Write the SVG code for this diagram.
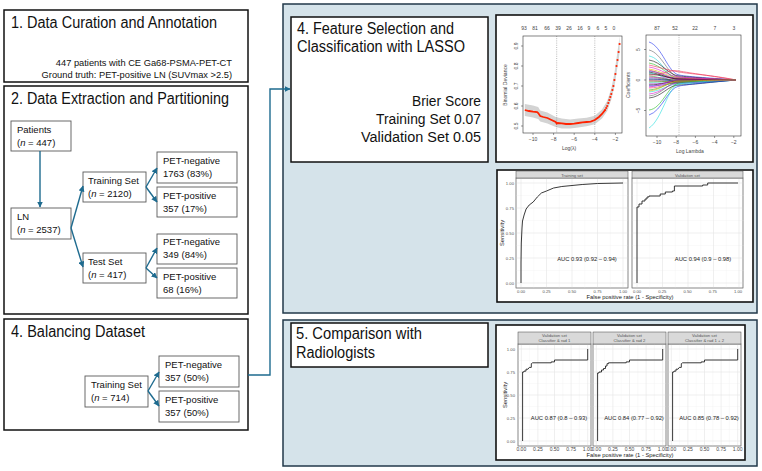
<svg xmlns="http://www.w3.org/2000/svg" xmlns:xlink="http://www.w3.org/1999/xlink" width="762" height="471" viewBox="0 0 762 471">
<style>
.t{font-family:'Liberation Sans',Arial,sans-serif;fill:#111}
.big{font-size:16px}
.mid{font-size:14px}
.sm{font-size:9.5px}
.box{fill:#fff;stroke:#111;stroke-width:1.5}
.nb{fill:#fff;stroke:#5a5a5a;stroke-width:0.9}
.conn{fill:none;stroke:#1e6b8f;stroke-width:1.4}
.panel{fill:#d5e3ea;stroke:#22394a;stroke-width:1.5}
.pbox{fill:#fff;stroke:#111;stroke-width:1.6}
.tiny{font-family:'Liberation Sans',Arial,sans-serif;font-size:5px;fill:#444}
.tiny2{font-family:'Liberation Sans',Arial,sans-serif;font-size:4.2px;fill:#555}
.lab{font-family:'Liberation Sans',Arial,sans-serif;font-size:5.8px;fill:#222}
.frame{fill:none;stroke:#333;stroke-width:0.6}
.gmaj{stroke:#e4e4e4;stroke-width:0.6;fill:none}
.gmin{stroke:#f2f2f2;stroke-width:0.4;fill:none}
.strip{fill:#d9d9d9;stroke:#444;stroke-width:0.5}
.ggp{fill:#fff;stroke:#777;stroke-width:0.5}
.roc{fill:none;stroke:#222;stroke-width:0.9}
.co{fill:none;stroke-width:0.6}
</style>
<defs>
<marker id="ah" markerUnits="userSpaceOnUse" markerWidth="6" markerHeight="6" refX="5.5" refY="3" orient="auto">
<path d="M0,0 L6,3 L0,6 z" fill="#1e6b8f"/>
</marker>
<g id="grid4">
<path class="gmin" d="M533.75 178V288M559.25 178V288M584.75 178V288M610.25 178V288M516 270.5H628M516 245.5H628M516 220.5H628M516 195.5H628"/>
<path class="gmaj" d="M521 178V288M546.5 178V288M572 178V288M597.5 178V288M623 178V288M516 283H628M516 258H628M516 233H628M516 208H628M516 183H628"/>
</g>
<g id="grid5">
<rect class="ggp" x="0" y="344" width="73" height="102"/>
<path class="gmin" d="M11.6 344V446M28.2 344V446M44.8 344V446M61.4 344V446M0 429.5H73M0 406.5H73M0 383.5H73M0 360.5H73"/>
<path class="gmaj" d="M3.3 344V446M19.9 344V446M36.5 344V446M53.1 344V446M69.7 344V446M0 441H73M0 418H73M0 395H73M0 372H73M0 349H73"/>
<rect x="0" y="344" width="73" height="102" fill="none" stroke="#777" stroke-width="0.5"/>
<rect class="strip" x="0" y="332" width="73" height="12"/>
<g class="tiny" text-anchor="middle" font-size="4.3"><text x="3.3" y="450.5">0.00</text><text x="19.9" y="450.5">0.25</text><text x="36.5" y="450.5">0.50</text><text x="53.1" y="450.5">0.75</text><text x="69.7" y="450.5">1.00</text></g>
</g>
</defs>

<!-- background panels -->
<g id="panel-4">
<rect class="panel" x="283" y="4" width="474" height="309"/>
</g>
<g id="panel-5">
<rect class="panel" x="283" y="320" width="474" height="146"/>
</g>

<!-- Box 1 -->
<g id="box1">
<rect class="box" x="4" y="10" width="244" height="72"/>
<text class="t big" x="11" y="28" textLength="206" lengthAdjust="spacingAndGlyphs">1. Data Curation and Annotation</text>
<text class="t" font-size="9.3" x="232" y="66" text-anchor="end">447 patients with CE Ga68-PSMA-PET-CT</text>
<text class="t" font-size="9.3" x="232" y="78" text-anchor="end">Ground truth: PET-positive LN (SUVmax &gt;2.5)</text>
</g>

<!-- Box 2 -->
<g id="box2">
<rect class="box" x="4" y="86" width="244" height="228"/>
<text class="t big" x="11" y="104" textLength="218" lengthAdjust="spacingAndGlyphs">2. Data Extraction and Partitioning</text>
</g>
<g id="patients">
<rect class="nb" x="11" y="121" width="60" height="30"/>
<text class="t sm" x="17" y="133">Patients</text>
<text class="t sm" x="17" y="146">(<tspan font-style="italic">n</tspan> = 447)</text>
</g>
<g id="ln">
<rect class="nb" x="11" y="208" width="60" height="31"/>
<text class="t sm" x="17" y="220">LN</text>
<text class="t sm" x="17" y="233">(<tspan font-style="italic">n</tspan> = 2537)</text>
</g>
<g id="train">
<rect class="nb" x="83" y="172" width="63" height="30"/>
<text class="t sm" x="88" y="184">Training Set</text>
<text class="t sm" x="88" y="197">(<tspan font-style="italic">n</tspan> = 2120)</text>
</g>
<g id="test">
<rect class="nb" x="83" y="253" width="63" height="30"/>
<text class="t sm" x="88" y="265">Test Set</text>
<text class="t sm" x="88" y="278">(<tspan font-style="italic">n</tspan> = 417)</text>
</g>
<g id="train-neg">
<rect class="nb" x="157" y="152" width="80" height="31"/>
<text class="t sm" x="163" y="164">PET-negative</text>
<text class="t sm" x="163" y="177">1763 (83%)</text>
</g>
<g id="train-pos">
<rect class="nb" x="157" y="187" width="80" height="30"/>
<text class="t sm" x="163" y="199">PET-positive</text>
<text class="t sm" x="163" y="212">357 (17%)</text>
</g>
<g id="test-neg">
<rect class="nb" x="157" y="234" width="80" height="30"/>
<text class="t sm" x="163" y="245">PET-negative</text>
<text class="t sm" x="163" y="258">349 (84%)</text>
</g>
<g id="test-pos">
<rect class="nb" x="157" y="268" width="80" height="30"/>
<text class="t sm" x="163" y="280">PET-positive</text>
<text class="t sm" x="163" y="293">68 (16%)</text>
</g>

<!-- Box 4 balancing -->
<g id="box4-balancing">
<rect class="box" x="4" y="319" width="244" height="111"/>
<text class="t big" x="11" y="337" textLength="134" lengthAdjust="spacingAndGlyphs">4. Balancing Dataset</text>
</g>
<g id="bal-train">
<rect class="nb" x="85" y="376" width="63" height="31"/>
<text class="t sm" x="91" y="388">Training Set</text>
<text class="t sm" x="91" y="401">(<tspan font-style="italic">n</tspan> = 714)</text>
</g>
<g id="bal-neg">
<rect class="nb" x="159" y="356" width="80" height="31"/>
<text class="t sm" x="165" y="368">PET-negative</text>
<text class="t sm" x="165" y="381">357 (50%)</text>
</g>
<g id="bal-pos">
<rect class="nb" x="159" y="391" width="80" height="31"/>
<text class="t sm" x="165" y="403">PET-positive</text>
<text class="t sm" x="165" y="416">357 (50%)</text>
</g>

<!-- Section 4 title box -->
<g id="lasso-title">
<rect class="box" x="291" y="17" width="197" height="145"/>
<text class="t big" x="297" y="34" textLength="157" lengthAdjust="spacingAndGlyphs">4. Feature Selection and</text>
<text class="t big" x="297" y="52" textLength="168" lengthAdjust="spacingAndGlyphs">Classification with LASSO</text>
<text class="t mid" x="481" y="106" text-anchor="end" textLength="69" lengthAdjust="spacingAndGlyphs">Brier Score</text>
<text class="t mid" x="481" y="124" text-anchor="end" textLength="105" lengthAdjust="spacingAndGlyphs">Training Set 0.07</text>
<text class="t mid" x="481" y="142" text-anchor="end" textLength="120" lengthAdjust="spacingAndGlyphs">Validation Set 0.05</text>
</g>

<!-- LASSO plots -->
<g id="lasso-plots">
<rect class="pbox" x="496" y="15" width="257" height="147"/>
<!-- CV deviance plot -->
<polygon fill="#d3d3d3" points="524.8,104 533,105.6 538.2,107 540.2,110.5 547.4,112.5 555.7,117 561.8,118.5 570.1,119.5 578.3,118.6 586.6,117.8 594.8,115.8 602,109.5 607.2,101 611.3,88.5 614.4,73.5 616.5,58.5 618.6,44 619.6,36 619.6,52 618.6,60 616.5,73 614.4,86.5 611.3,99.5 607.2,111 602,118.5 594.8,124.2 586.6,126.2 578.3,127.4 570.1,128.5 561.8,128.4 555.7,127 547.4,123.5 540.2,121.5 538.2,119 533,117.6 524.8,116"/>
<path d="M556.7 36V133M594.8 36V133" stroke="#777" stroke-width="0.5" stroke-dasharray="1,1.2" fill="none"/>
<polyline fill="none" stroke="#ff2200" stroke-width="1.8" points="524.8,110 528.9,111 533,111.6 537.1,112 538.2,113 540.2,116 543.3,117 547.4,118 551.5,120 555.7,122 556.7,123.6 557.7,123 561.8,123.4 566,124 570.1,124 574.2,123.6 578.3,123 582.4,122.4 586.6,122 590.7,121.6 594.8,120 598.9,117 602,114 605.1,110"/>
<g fill="#ff2200">
<circle cx="605.1" cy="110" r="1.1"/><circle cx="606.2" cy="108" r="1.1"/><circle cx="607.2" cy="106" r="1.1"/><circle cx="608.3" cy="103" r="1.1"/><circle cx="609.3" cy="100" r="1.1"/><circle cx="610.3" cy="97" r="1.1"/><circle cx="611.3" cy="94" r="1.1"/><circle cx="612.4" cy="90" r="1.1"/><circle cx="613.4" cy="86" r="1.1"/><circle cx="614.4" cy="80" r="1.1"/><circle cx="615.4" cy="74" r="1.1"/><circle cx="616.5" cy="66" r="1.1"/><circle cx="617.5" cy="60" r="1.1"/><circle cx="618.6" cy="52" r="1.1"/><circle cx="619.6" cy="44" r="1.1"/>
</g>
<rect class="frame" x="523" y="36" width="99" height="97"/>
<path d="M533 133v2M553.6 133v2M574.2 133v2M594.8 133v2M615.4 133v2M523 126h-2M523 106h-2M523 86h-2M523 66h-2M523 46h-2" stroke="#333" stroke-width="0.5"/>
<g class="tiny" text-anchor="middle">
<text x="524" y="30">93</text><text x="535" y="30">81</text><text x="547" y="30">66</text><text x="558" y="30">39</text><text x="569" y="30">26</text><text x="580" y="30">16</text><text x="589" y="30">9</text><text x="598" y="30">6</text><text x="606" y="30">5</text><text x="614" y="30">0</text>
<text x="533" y="141">−10</text><text x="553.6" y="141">−8</text><text x="574.2" y="141">−6</text><text x="594.8" y="141">−4</text><text x="615.4" y="141">−2</text>
<text transform="translate(518,126) rotate(-90)">0.5</text>
<text transform="translate(518,106) rotate(-90)">0.6</text>
<text transform="translate(518,86) rotate(-90)">0.7</text>
<text transform="translate(518,66) rotate(-90)">0.8</text>
<text transform="translate(518,46) rotate(-90)">0.9</text>
<text x="569" y="150">Log(λ)</text>
<text transform="translate(507,85) rotate(-90)">Binomial Deviance</text>
</g>
<!-- coefficient path plot -->
<path d="M679 35V136" stroke="#777" stroke-width="0.5" stroke-dasharray="1,1.2" fill="none"/>
<g class="co">
<path stroke="#2233ee" d="M649 42 C662 46 668 73 679 75 S712 78 736 80"/>
<path stroke="#666666" d="M649 50 C662 53 668 76 679 77 S712 79 736 80"/>
<path stroke="#22dddd" d="M649 56 C662 58 668 80 679 80 S712 80 736 80"/>
<path stroke="#111111" d="M649 60 C662 62 668 75 679 76 S712 79 736 80"/>
<path stroke="#22bb22" d="M649 63 C662 65 668 77 679 78 S712 80 736 80"/>
<path stroke="#ee3355" d="M649 65 C662 68 668 70 679 72 S712 75 736 80"/>
<path stroke="#dd11cc" d="M649 67 C662 69 668 76 679 77 S712 79 736 80"/>
<path stroke="#e0b800" d="M649 69 C662 71 668 77 679 78 S712 79 736 80"/>
<path stroke="#2233ee" d="M649 71 C662 72 668 78 679 79 S712 80 736 80"/>
<path stroke="#22dddd" d="M649 73 C662 74 668 82 679 82 S712 81 736 80"/>
<path stroke="#111111" d="M649 74 C662 75 668 78 679 79 S712 80 736 80"/>
<path stroke="#ee3355" d="M649 75 C662 76 668 69 679 71 S712 76 736 80"/>
<path stroke="#22bb22" d="M649 76 C662 77 668 81 679 81 S712 80 736 80"/>
<path stroke="#dd11cc" d="M649 77 C662 78 668 78 679 78 S712 79 736 80"/>
<path stroke="#666666" d="M649 78 C662 78 668 80 679 80 S712 80 736 80"/>
<path stroke="#2233ee" d="M649 79 C662 79 668 81 679 81 S712 81 736 80"/>
<path stroke="#111111" d="M649 80 C662 80 668 80 679 80 S712 80 736 80"/>
<path stroke="#ee3355" d="M649 81 C662 81 668 82 679 82 S712 81 736 80"/>
<path stroke="#22bb22" d="M649 82 C662 82 668 81 679 81 S712 80 736 80"/>
<path stroke="#22dddd" d="M649 83 C662 83 668 83 679 83 S712 82 736 80"/>
<path stroke="#dd11cc" d="M649 84 C662 84 668 82 679 82 S712 81 736 80"/>
<path stroke="#111111" d="M649 85 C662 85 668 81 679 81 S712 80 736 80"/>
<path stroke="#2233ee" d="M649 86 C662 86 668 83 679 83 S712 81 736 80"/>
<path stroke="#ee3355" d="M649 88 C662 88 668 82 679 82 S712 81 736 80"/>
<path stroke="#22bb22" d="M649 90 C662 89 668 82 679 82 S712 81 736 80"/>
<path stroke="#22dddd" d="M649 92 C662 91 668 84 679 84 S712 82 736 80"/>
<path stroke="#dd11cc" d="M649 94 C662 93 668 83 679 83 S712 81 736 80"/>
<path stroke="#666666" d="M649 96 C662 95 668 82 679 82 S712 81 736 80"/>
<path stroke="#111111" d="M649 98 C662 97 668 85 679 85 S712 82 736 80"/>
<path stroke="#22bb22" d="M649 110 C662 109 668 85 679 83 S712 81 736 80"/>
<path stroke="#2233ee" d="M649 115 C662 111 668 88 679 86 S712 82 736 80"/>
<path stroke="#22dddd" d="M649 128 C662 120 668 86 679 84 S712 81 736 80"/>
<path stroke="#ee3355" d="M649 70 C662 73 668 79 679 79 S712 80 736 80"/>
<path stroke="#111111" d="M649 72 C662 74 668 79 679 79 S712 80 736 80"/>
<path stroke="#dd11cc" d="M649 87 C662 86 668 80 679 80 S712 80 736 80"/>
<path stroke="#e0b800" d="M649 91 C662 90 668 81 679 81 S712 80 736 80"/>
</g>
<rect class="frame" x="646" y="35" width="95" height="101"/>
<path d="M657 136v2M676.2 136v2M695.4 136v2M714.6 136v2M733.8 136v2M646 49.5h-2M646 80h-2M646 110.5h-2" stroke="#333" stroke-width="0.5"/>
<g class="tiny" text-anchor="middle">
<text x="657" y="30">87</text><text x="675" y="30">52</text><text x="695" y="30">22</text><text x="715" y="30">7</text><text x="734" y="30">3</text>
<text x="657" y="144">−10</text><text x="676.2" y="144">−8</text><text x="695.4" y="144">−6</text><text x="714.6" y="144">−4</text><text x="733.8" y="144">−2</text>
<text transform="translate(640,49.5) rotate(-90)">5</text>
<text transform="translate(640,80) rotate(-90)">0</text>
<text transform="translate(640,110.5) rotate(-90)">−5</text>
<text x="690" y="153">Log Lambda</text>
<text transform="translate(630,85) rotate(-90)">Coefficients</text>
</g>
</g>

<!-- ROC training / validation -->
<g id="roc-lasso">
<rect class="pbox" x="497" y="170" width="256" height="132"/>
<rect class="ggp" x="516" y="178" width="112" height="110"/>
<rect class="ggp" x="632" y="178" width="111" height="110"/>
<use xlink:href="#grid4"/>
<use xlink:href="#grid4" transform="translate(116,0)"/>
<rect x="516" y="178" width="112" height="110" fill="none" stroke="#777" stroke-width="0.5"/>
<rect x="632" y="178" width="111" height="110" fill="none" stroke="#777" stroke-width="0.5"/>
<rect class="strip" x="516" y="171" width="112" height="7"/>
<rect class="strip" x="632" y="171" width="111" height="7"/>
<g class="tiny2" text-anchor="middle">
<text x="572" y="176.5">Training set</text>
<text x="687.5" y="176.5">Validation set</text>
</g>
<polyline class="roc" points="521,283 521,263 521.3,243 522,228 522.5,221 524.1,215 526.1,209 529.2,205 533.2,202 537.3,197 541.4,193 546.5,191 553.6,188 561.8,186.5 572,185.5 582.2,184.5 597.5,183.5 623,183"/>
<path class="roc" d="M637 283V207H639V204H642V201H645V199H647V197H649V196H660.2V194H665.3V192H672.4V191H674.4V186H702.7V185H707.7V183H738"/>
<g class="tiny2" text-anchor="end">
<text x="514" y="184.5">1.00</text><text x="514" y="209.5">0.75</text><text x="514" y="234.5">0.50</text><text x="514" y="259.5">0.25</text><text x="514" y="284.5">0.00</text>
</g>
<g class="tiny2" text-anchor="middle">
<text x="521" y="293">0.00</text><text x="546.5" y="293">0.25</text><text x="572" y="293">0.50</text><text x="597.5" y="293">0.75</text><text x="623" y="293">1.00</text>
<text x="637" y="293">0.00</text><text x="662.3" y="293">0.25</text><text x="687.5" y="293">0.50</text><text x="712.8" y="293">0.75</text><text x="738" y="293">1.00</text>
</g>
<text class="lab" x="587" y="261" text-anchor="middle">AUC 0.93 (0.92 – 0.94)</text>
<text class="lab" x="703" y="261" text-anchor="middle">AUC 0.94 (0.9 – 0.98)</text>
<text class="lab" x="630" y="299" text-anchor="middle">False positive rate (1 - Specificity)</text>
<text class="lab" transform="translate(504,233) rotate(-90)" text-anchor="middle">Sensitivity</text>
</g>

<!-- Section 5 title -->
<g id="radiologists-title">
<rect class="box" x="291" y="323" width="197" height="44"/>
<text class="t big" x="296" y="339" textLength="126" lengthAdjust="spacingAndGlyphs">5. Comparison with</text>
<text class="t big" x="296" y="358" textLength="79" lengthAdjust="spacingAndGlyphs">Radiologists</text>
</g>

<!-- Section 5 ROC -->
<g id="roc-radiologists">
<rect class="pbox" x="496" y="325" width="249" height="135"/>
<use xlink:href="#grid5" transform="translate(518,0)"/>
<use xlink:href="#grid5" transform="translate(593,0)"/>
<use xlink:href="#grid5" transform="translate(668,0)"/>
<g class="tiny2" text-anchor="middle" font-size="4">
<text x="554.5" y="337">Validation set</text><text x="554.5" y="341.5">Classifier &amp; rad 1</text>
<text x="629.5" y="337">Validation set</text><text x="629.5" y="341.5">Classifier &amp; rad 2</text>
<text x="704.5" y="337">Validation set</text><text x="704.5" y="341.5">Classifier &amp; rad 1 + 2</text>
</g>
<path class="roc" transform="translate(518,0)" d="M4.6 441V372H6V371.1H8V369.2H10L11.3 367.4H13.3V363.7L14.6 362.8H33.2V361.9H36.5V360H69.7V349"/>
<path class="roc" transform="translate(593,0)" d="M4.6 441V373H6V372H8.5V370H10.5V368.5H12.5V366H14V363.7H15.5V362.8H33.2V361.9H36.5V360H69.7V349"/>
<path class="roc" transform="translate(668,0)" d="M4.6 441V372H6V371.1H8V369.2H10L11.3 367.4H13.3V363.7L14.6 362.8H33.2V361.9H36.5V360H69.7V349"/>
<g class="tiny2" text-anchor="end" font-size="4">
<text x="515" y="350.5">1.00</text><text x="515" y="373.5">0.75</text><text x="515" y="396.5">0.50</text><text x="515" y="419.5">0.25</text><text x="515" y="442.5">0.00</text>
</g>
<text class="lab" x="559" y="420" text-anchor="middle">AUC 0.87 (0.8 – 0.93)</text>
<text class="lab" x="634" y="420" text-anchor="middle">AUC 0.84 (0.77 – 0.92)</text>
<text class="lab" x="709" y="420" text-anchor="middle">AUC 0.85 (0.78 – 0.92)</text>
<text class="lab" x="630" y="457" text-anchor="middle">False positive rate (1 - Specificity)</text>
<text class="lab" transform="translate(507,395) rotate(-90)" text-anchor="middle">Sensitivity</text>
</g>

<!-- connectors -->
<g id="connectors">
<path class="conn" d="M40 151V207" marker-end="url(#ah)"/>
<path class="conn" d="M71 228L83 186" marker-end="url(#ah)"/>
<path class="conn" d="M71 228L83 267" marker-end="url(#ah)"/>
<path class="conn" d="M146 187L157 168" marker-end="url(#ah)"/>
<path class="conn" d="M146 187L157 202" marker-end="url(#ah)"/>
<path class="conn" d="M146 268L157 248" marker-end="url(#ah)"/>
<path class="conn" d="M146 268L157 278" marker-end="url(#ah)"/>
<path class="conn" d="M148 391L159 372" marker-end="url(#ah)"/>
<path class="conn" d="M148 391L159 406" marker-end="url(#ah)"/>
<path class="conn" d="M248 375H270V89H290" marker-end="url(#ah)"/>
</g>
</svg>
